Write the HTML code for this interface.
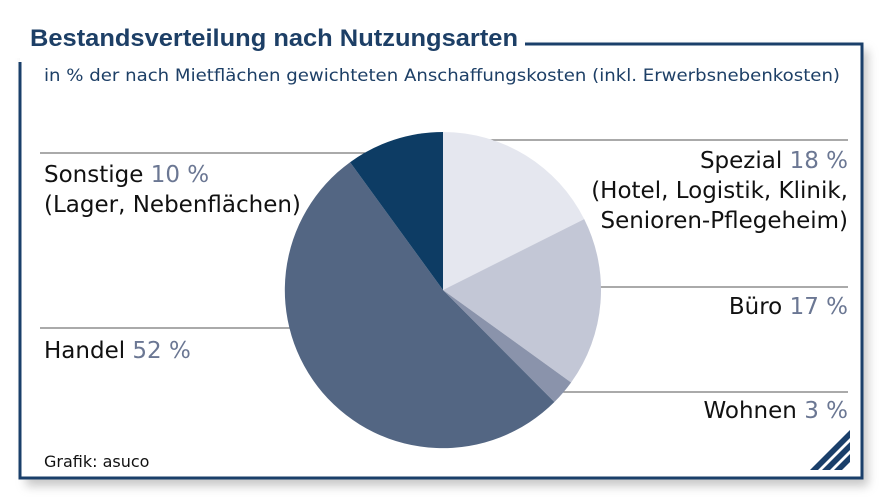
<!DOCTYPE html>
<html><head><meta charset="utf-8"><style>
body{margin:0;width:896px;height:500px;background:#fff;overflow:hidden;font-family:"DejaVu Sans","Liberation Sans",sans-serif}
</style></head><body>
<svg width="896" height="500" viewBox="0 0 896 500" xmlns="http://www.w3.org/2000/svg">
<defs><filter id="sh" x="-5%" y="-5%" width="115%" height="120%"><feGaussianBlur stdDeviation="5"/></filter></defs>
<rect x="26" y="50" width="842" height="436" fill="#999" opacity="0.55" filter="url(#sh)"/>
<rect x="20" y="44" width="842" height="434" fill="#fff"/>
<path d="M525 44 H862 V478 H20 V62" fill="none" stroke="#1a3f6a" stroke-width="3"/>
<rect x="0" y="0" width="525" height="58" fill="#fff"/>
<line x1="525" y1="44" x2="862" y2="44" stroke="#1a3f6a" stroke-width="3"/>
<line x1="20" y1="62" x2="20" y2="478" stroke="#1a3f6a" stroke-width="3"/>
<text x="30" y="46" font-family="Liberation Sans,sans-serif" font-weight="bold" font-size="24" fill="#1d3f66" textLength="488" lengthAdjust="spacingAndGlyphs">Bestandsverteilung nach Nutzungsarten</text>
<text x="44" y="81" font-size="17" fill="#1d3f66" textLength="796" lengthAdjust="spacingAndGlyphs">in % der nach Mietflächen gewichteten Anschaffungskosten (inkl. Erwerbsnebenkosten)</text>
<g stroke="#777" stroke-width="1.3">
<line x1="40" y1="153" x2="365" y2="153"/><line x1="40" y1="328" x2="292" y2="328"/>
<line x1="445" y1="140" x2="848" y2="140"/><line x1="595" y1="287" x2="848" y2="287"/><line x1="560" y1="392" x2="848" y2="392"/>
</g>
<g transform="translate(443,290)">
<path d="M0 0 L0 -158 A158 158 0 0 1 141.2 -70.9 Z" fill="#e5e7ef"/>
<path d="M0 0 L141.2 -70.9 A158 158 0 0 1 128.1 92.5 Z" fill="#c3c7d6"/>
<path d="M0 0 L128.1 92.5 A158 158 0 0 1 111.4 112.0 Z" fill="#8a93ab"/>
<path d="M0 0 L111.4 112.0 A158 158 0 1 1 -92.9 -127.8 Z" fill="#536683"/>
<path d="M0 0 L-92.9 -127.8 A158 158 0 0 1 0 -158 Z" fill="#0d3c64"/>
</g>
<g font-size="23" fill="#111">
<text x="44" y="182">Sonstige <tspan fill="#6b7793">10 %</tspan></text>
<text x="44" y="212">(Lager, Nebenflächen)</text>
<text x="44" y="358">Handel <tspan fill="#6b7793">52 %</tspan></text>
<text x="848" y="168" text-anchor="end">Spezial <tspan fill="#6b7793">18 %</tspan></text>
<text x="848" y="198" text-anchor="end">(Hotel, Logistik, Klinik,</text>
<text x="848" y="228" text-anchor="end">Senioren-Pflegeheim)</text>
<text x="848" y="314" text-anchor="end">Büro <tspan fill="#6b7793">17 %</tspan></text>
<text x="848" y="418" text-anchor="end">Wohnen <tspan fill="#6b7793">3 %</tspan></text>
</g>
<text x="44" y="467" font-size="16" fill="#111">Grafik: asuco</text>
<g fill="#1a3f6a">
<polygon points="810,470 818,470 850,438 850,430"/>
<polygon points="822,470 830,470 850,450 850,442"/>
<polygon points="834,470 842,470 850,462 850,454"/>
</g>
</svg>
</body></html>
